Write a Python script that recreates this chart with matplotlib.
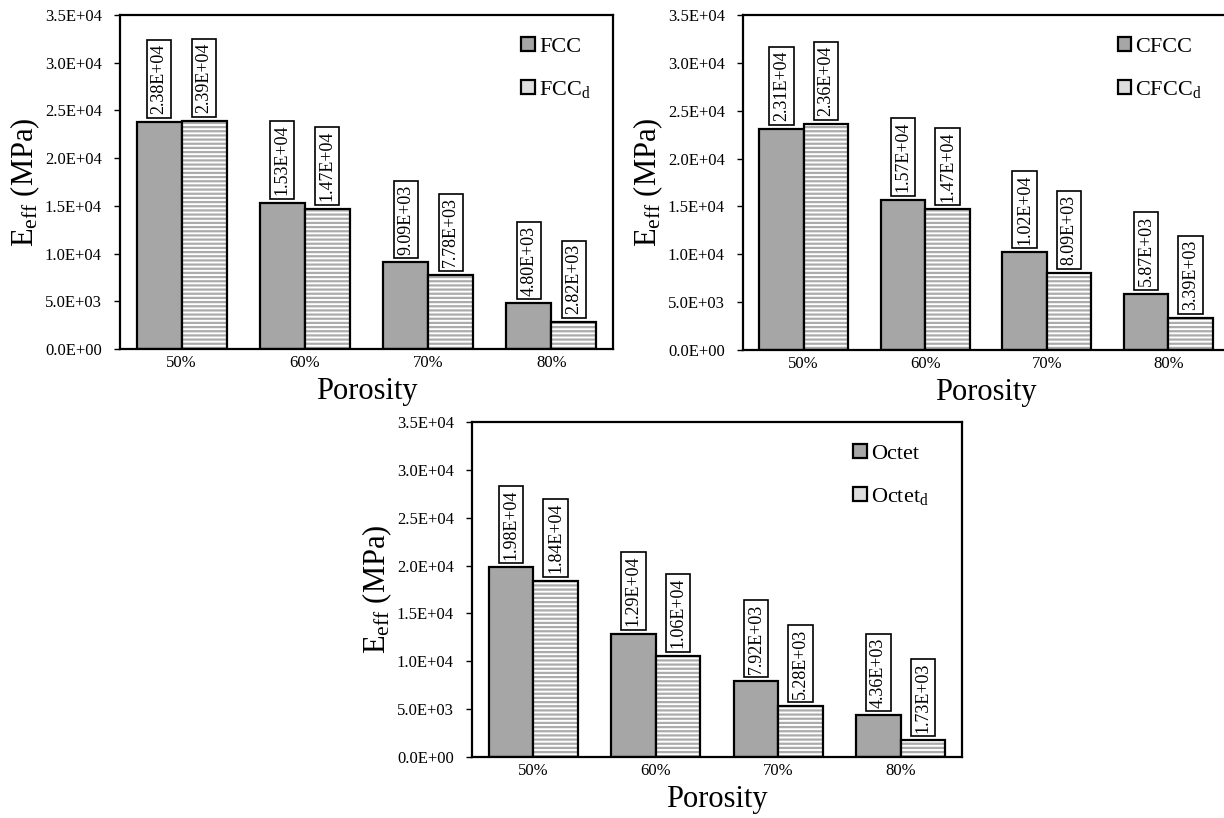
import matplotlib
matplotlib.use("Agg")
import matplotlib.pyplot as plt
from matplotlib.patches import Patch
import numpy as np

plt.rcParams['font.family'] = ['Liberation Serif', 'DejaVu Serif']
plt.rcParams['mathtext.fontset'] = 'custom'
plt.rcParams['mathtext.rm'] = 'Liberation Serif'
plt.rcParams['mathtext.it'] = 'Liberation Serif:italic'
plt.rcParams['hatch.linewidth'] = 1.6

categories = ['50%', '60%', '70%', '80%']

fcc = [2.38e4, 1.53e4, 9.09e3, 4.80e3]
fcc_d = [2.39e4, 1.47e4, 7.78e3, 2.82e3]
cfcc = [2.31e4, 1.57e4, 1.02e4, 5.87e3]
cfcc_d = [2.36e4, 1.47e4, 8.09e3, 3.39e3]
octet = [1.98e4, 1.29e4, 7.92e3, 4.36e3]
octet_d = [1.84e4, 1.06e4, 5.28e3, 1.73e3]

names = ['FCC', 'CFCC', 'Octet']
yticks = np.arange(0, 35001, 5000)

W, H = 1224, 818
fig = plt.figure(figsize=(W / 100, H / 100), dpi=100)

# positions in pixels: left, top, right, bottom
boxes = [(120, 15, 613, 349), (743, 15, 1229, 350), (472, 422, 962, 757)]
legend_anchor = [(0.814, 0.935), (0.771, 0.935), (0.778, 0.935)]
data = [(fcc, fcc_d), (cfcc, cfcc_d), (octet, octet_d)]

HATCH_COL = '#ababab'
bw = 0.365
for (l, t, r, b), (s1, s2), nm, la in zip(boxes, data, names, legend_anchor):
    ax = fig.add_axes([l / W, 1 - b / H, (r - l) / W, (b - t) / H])
    x = np.arange(len(categories))
    b1 = ax.bar(x - bw / 2, s1, bw, color='#a6a6a6', edgecolor='black', linewidth=1.6)
    ax.bar(x + bw / 2, s2, bw, color='white', edgecolor=HATCH_COL, linewidth=0,
           hatch='----')
    b2 = ax.bar(x + bw / 2, s2, bw, fill=False, edgecolor='black', linewidth=1.6)
    for bars, vals in ((b1, s1), (b2, s2)):
        for rect, v in zip(bars, vals):
            ax.annotate(f'{v:.2E}', (rect.get_x() + rect.get_width() / 2, v),
                        xytext=(0, 5.5), textcoords='offset points', rotation=90,
                        ha='center', va='bottom', fontsize=13,
                        bbox=dict(boxstyle='square,pad=0.2', fc='white', ec='black', lw=1.2))
    ax.set_xlim(-0.5, 3.5)
    ax.set_ylim(0, 35000)
    ax.set_yticks(yticks)
    ax.set_yticklabels([f'{v:.1E}' for v in yticks], fontsize=12)
    ax.set_xticks(x)
    ax.set_xticklabels(categories, fontsize=12)
    ax.tick_params(axis='x', length=0, pad=4)
    ax.tick_params(axis='y', length=4, width=1, direction='out', pad=9)
    for sp in ax.spines.values():
        sp.set_linewidth(1.6)
    ax.set_xlabel('Porosity', fontsize=22, labelpad=5)
    ax.set_ylabel(r'E$_{\mathrm{eff}}$ (MPa)', fontsize=22, labelpad=2)
    handles = [Patch(facecolor='#a6a6a6', edgecolor='black', linewidth=1.6),
               Patch(facecolor='#dedede', edgecolor='black', linewidth=1.6)]
    ax.legend(handles, [nm, nm + r'$_{\mathrm{d}}$'], loc='upper left', bbox_to_anchor=la,
              frameon=False, fontsize=16,
              handlelength=0.6, handleheight=0.6, handletextpad=0.2,
              labelspacing=1.0, borderpad=0, borderaxespad=0)

fig.savefig('out.png', dpi=100)
